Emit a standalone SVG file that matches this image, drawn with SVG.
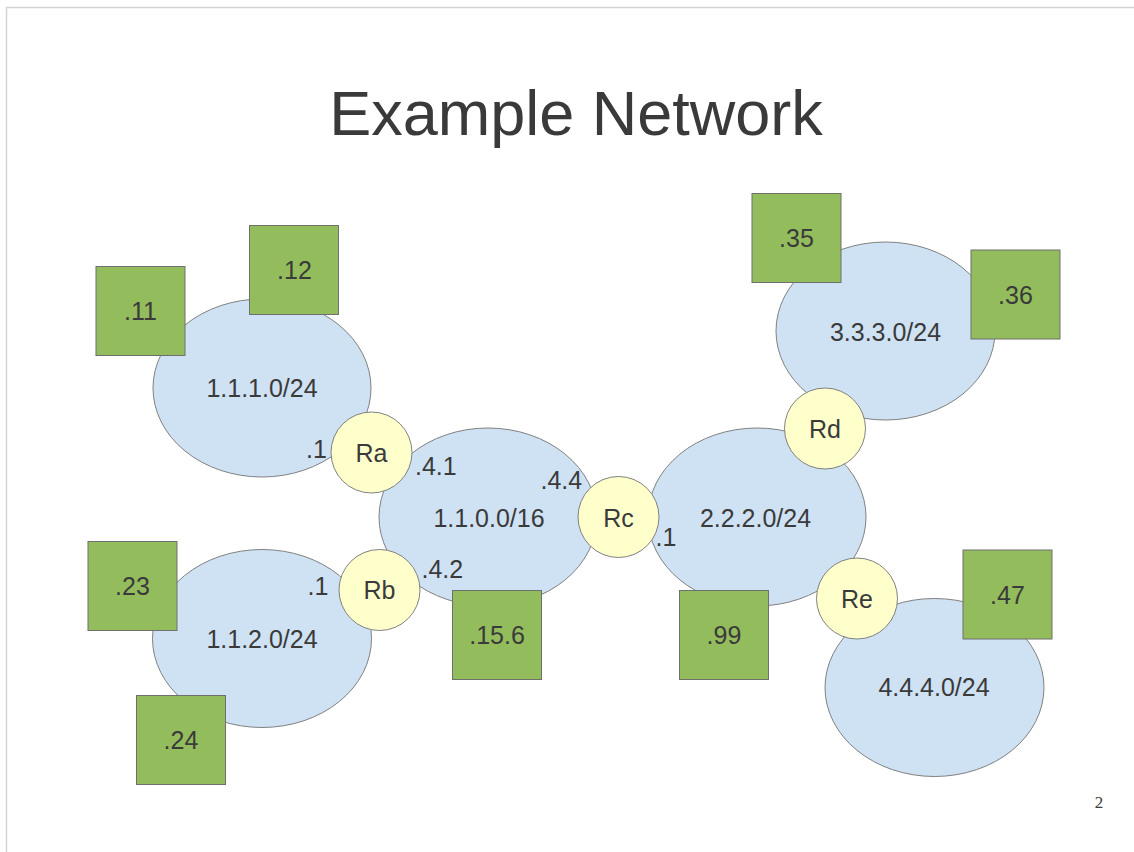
<svg xmlns="http://www.w3.org/2000/svg" width="1134" height="852" viewBox="0 0 1134 852">
<style>
  .net{fill:#cfe2f3;stroke:#808080;stroke-width:1}
  .host{fill:#93bd5c;stroke:#6f6f6f;stroke-width:1}
  .rtr{fill:#ffffcc;stroke:#808080;stroke-width:1}
  text{font-family:"Liberation Sans",Arial,sans-serif;fill:#3a3a3a}
  .lbl{font-size:25px;text-anchor:middle}
  .ifc{font-size:25px}
</style>
<rect x="0" y="0" width="1134" height="852" fill="#ffffff"/>
<path d="M6.5 852 V7.5 H1134" fill="none" stroke="#d4d4d4" stroke-width="1.5"/>
<text x="576" y="134.5" font-size="63" text-anchor="middle">Example Network</text>
<g id="connectors"></g>
<g id="net-1-1-1"><ellipse class="net" cx="262" cy="388" rx="109" ry="89"/><text class="lbl" x="262" y="397">1.1.1.0/24</text></g>
<g id="net-1-1-0"><ellipse class="net" cx="488" cy="517" rx="109" ry="89"/><text class="lbl" x="489" y="526.5">1.1.0.0/16</text></g>
<g id="net-1-1-2"><ellipse class="net" cx="262" cy="638.5" rx="109.5" ry="89"/><text class="lbl" x="262" y="648">1.1.2.0/24</text></g>
<g id="net-3-3-3"><ellipse class="net" cx="885.5" cy="331" rx="109.5" ry="89"/><text class="lbl" x="885.5" y="340.5">3.3.3.0/24</text></g>
<g id="net-2-2-2"><ellipse class="net" cx="757" cy="517" rx="109" ry="89"/><text class="lbl" x="755.5" y="527">2.2.2.0/24</text></g>
<g id="net-4-4-4"><ellipse class="net" cx="934.5" cy="687.5" rx="109.5" ry="89"/><text class="lbl" x="934" y="696">4.4.4.0/24</text></g>
<g id="h11"><rect class="host" x="96" y="266.5" width="89" height="89"/><text class="lbl" x="140.5" y="320">.11</text></g>
<g id="h12"><rect class="host" x="249.5" y="225.5" width="89" height="89"/><text class="lbl" x="294.5" y="279">.12</text></g>
<g id="h23"><rect class="host" x="88" y="541.5" width="89" height="89"/><text class="lbl" x="132.5" y="595">.23</text></g>
<g id="h24"><rect class="host" x="136.5" y="695.5" width="89" height="89"/><text class="lbl" x="181" y="749">.24</text></g>
<g id="h156"><rect class="host" x="452.5" y="590.5" width="89" height="89"/><text class="lbl" x="497" y="644">.15.6</text></g>
<g id="h99"><rect class="host" x="679.5" y="590.5" width="89" height="89"/><text class="lbl" x="724" y="644">.99</text></g>
<g id="h35"><rect class="host" x="752" y="193.5" width="89" height="89"/><text class="lbl" x="796.5" y="247">.35</text></g>
<g id="h36"><rect class="host" x="971" y="250" width="89" height="89"/><text class="lbl" x="1015.5" y="304">.36</text></g>
<g id="h47"><rect class="host" x="963" y="550" width="89" height="89"/><text class="lbl" x="1007.5" y="603.5">.47</text></g>
<g id="Ra"><circle class="rtr" cx="371.5" cy="452.5" r="40.5"/><text class="lbl" x="371.5" y="461.5">Ra</text></g>
<g id="Rb"><circle class="rtr" cx="379.5" cy="590" r="40.5"/><text class="lbl" x="379.5" y="599">Rb</text></g>
<g id="Rc"><circle class="rtr" cx="618.5" cy="517" r="40.5"/><text class="lbl" x="618.5" y="526.5">Rc</text></g>
<g id="Rd"><circle class="rtr" cx="825" cy="428.5" r="40.5"/><text class="lbl" x="825" y="437.5">Rd</text></g>
<g id="Re"><circle class="rtr" cx="857" cy="598.5" r="40.5"/><text class="lbl" x="857" y="607.5">Re</text></g>
<g id="interfaces">
  <text class="ifc" x="306" y="457.5">.1</text>
  <text class="ifc" x="415" y="475">.4.1</text>
  <text class="ifc" x="540.5" y="488.5">.4.4</text>
  <text class="ifc" x="421.5" y="577.5">.4.2</text>
  <text class="ifc" x="307.5" y="595">.1</text>
  <text class="ifc" x="655.5" y="546">.1</text>
</g>
<text x="1099" y="808" font-size="17" text-anchor="middle" style="font-family:'Liberation Serif','Times New Roman',serif">2</text>
</svg>
